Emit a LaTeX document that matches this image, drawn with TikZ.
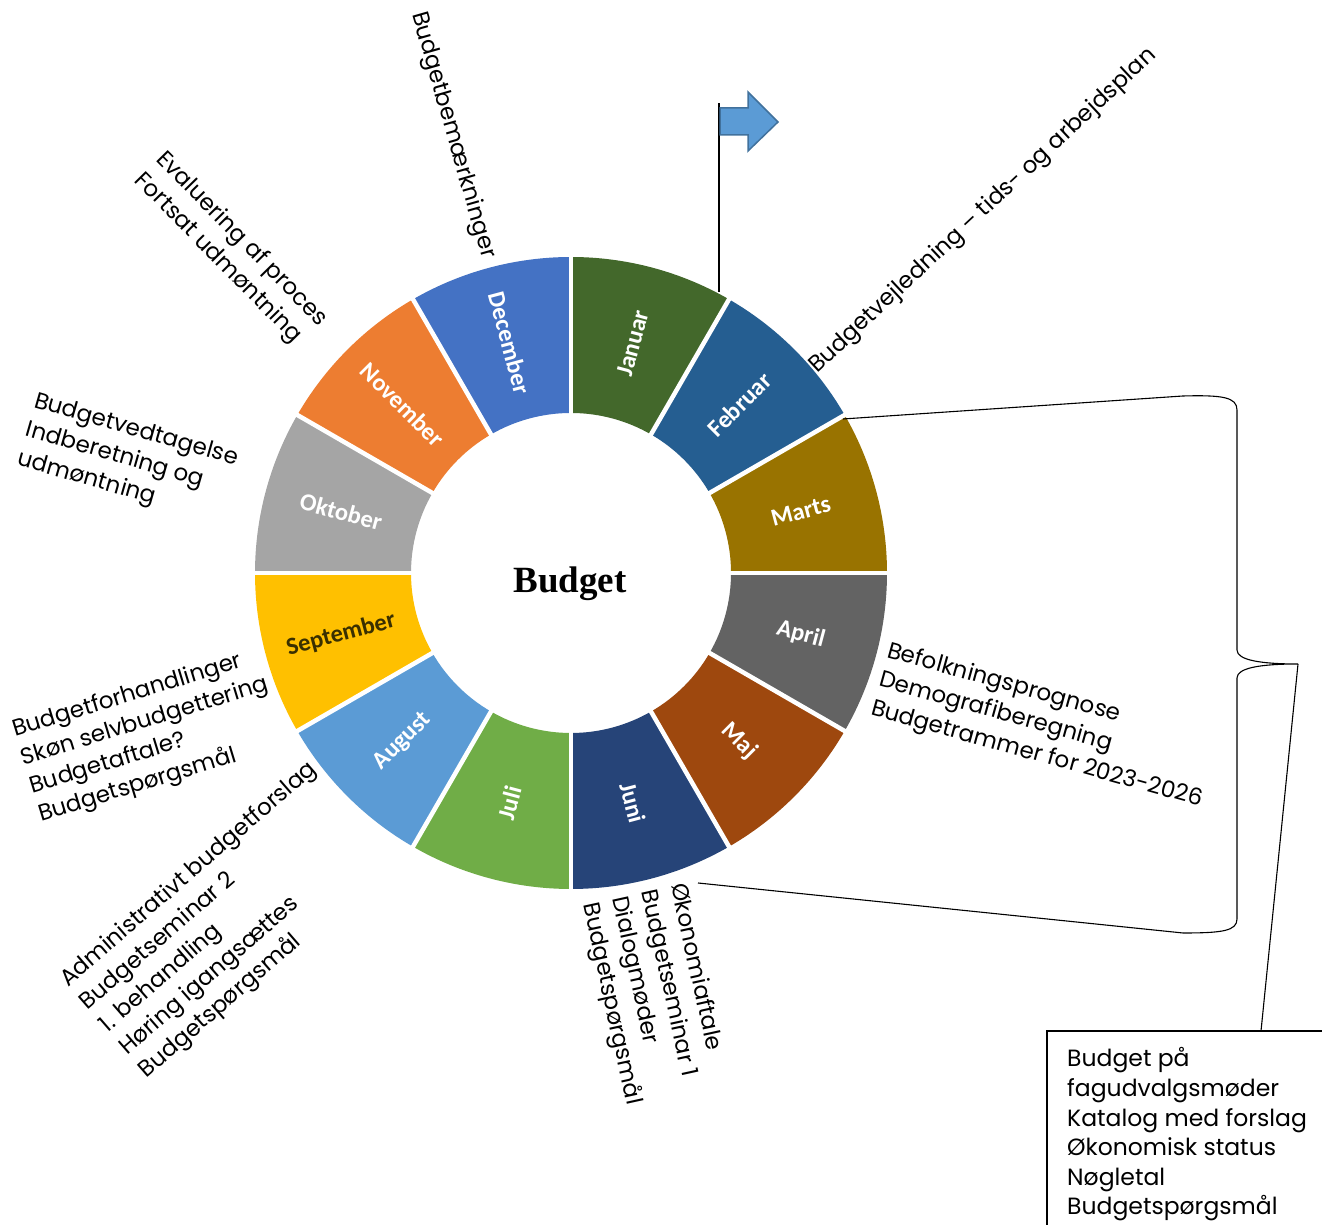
\documentclass[tikz,border=0pt]{standalone}
\usepackage{fontspec}
\newfontfamily\lblf{Poppins}
\newfontfamily\calf{Carlito}
\newfontfamily\serf{Liberation Serif}
\usetikzlibrary{calc}
\definecolor{cJan}{HTML}{43682B}
\definecolor{cFeb}{HTML}{255E91}
\definecolor{cMar}{HTML}{997300}
\definecolor{cApr}{HTML}{636363}
\definecolor{cMaj}{HTML}{9E480E}
\definecolor{cJun}{HTML}{264478}
\definecolor{cJul}{HTML}{70AD47}
\definecolor{cAug}{HTML}{5B9BD5}
\definecolor{cSep}{HTML}{FFC000}
\definecolor{cOkt}{HTML}{A5A5A5}
\definecolor{cNov}{HTML}{ED7D31}
\definecolor{cDec}{HTML}{4472C4}
\definecolor{septext}{HTML}{3A3000}
\definecolor{arrowfill}{HTML}{5B9BD5}
\definecolor{arrowdraw}{HTML}{41719C}
\begin{document}
\begin{tikzpicture}[x=1pt,y=1pt,
  lbl/.style={font=\lblf\fontsize{23}{28}\selectfont, anchor=base west, inner sep=0pt},
  boxlbl/.style={font=\lblf\fontsize{23.5}{28}\selectfont, anchor=base west, inner sep=0pt},
  mon/.style={font=\calf\bfseries\fontsize{24.5}{30}\selectfont, inner sep=0pt},
  conn/.style={black, line width=1.1pt}]
\useasboundingbox (0,0) rectangle (1322,1225);
\coordinate (C) at (571,652);
% ring segments
\foreach \i/\col in {0/cJan,1/cFeb,2/cMar,3/cApr,4/cMaj,5/cJun,6/cJul,7/cAug,8/cSep,9/cOkt,10/cNov,11/cDec}{
  \pgfmathsetmacro\a{90-30*\i}
  \pgfmathsetmacro\b{60-30*\i}
  \fill[\col] ($(C)+(\a:316)$) arc[start angle=\a, end angle=\b, radius=316]
     -- ($(C)+(\b:160)$) arc[start angle=\b, end angle=\a, radius=160] -- cycle;
}
\foreach \a in {0,30,...,330}{
  \draw[white, line width=4.5pt] ($(C)+(\a:155)$) -- ($(C)+(\a:322)$);
}
% month labels
\foreach \i/\nm/\rot/\tc in {0/Januar/75/white,1/Februar/45/white,2/Marts/15/white,3/April/-15/white,4/Maj/-45/white,5/Juni/-75/white,6/Juli/75/white,7/August/45/white,8/September/15/septext,9/Oktober/-15/white,10/November/-45/white,11/December/-75/white}{
  \node[mon, text=\tc, rotate=\rot] (m\i) at ($(C)+({75-30*\i}:238)$) {\nm};
}
\node[font=\serf\bfseries\fontsize{37}{40}\selectfont, anchor=base, inner sep=0pt] (ctr) at (570,632) {Budget};
% outer labels
\node[lbl, rotate=-74] (bem) at (412,1211) {Budgetbemærkninger};
\foreach [count=\k from 0] \t in {Evaluering af proces, Fortsat udmøntning}{
  \path (155,1065) ++({-45.5-90}:{30*\k}) node[lbl, rotate=-45.5] (evl\k) {\t};
}
\foreach [count=\k from 0] \t in {Budgetvedtagelse, Indberetning og, udmøntning}{
  \path (33,818) ++({-16-90}:{30*\k}) node[lbl, rotate=-16] (ved\k) {\t};
}
\node[lbl, rotate=43] (vej) at (817,851) {Budgetvejledning – tids- og arbejdsplan};
\foreach [count=\k from 0] \t in {Befolkningsprognose, Demografiberegning, Budgetrammer for 2023-2026}{
  \path (886,568) ++({-15.5-90}:{30*\k}) node[lbl, rotate=-15.5] (bef\k) {\t};
}
\foreach [count=\k from 0] \t in {Budgetforhandlinger, Skøn selvbudgettering, Budgetaftale?, Budgetspørgsmål}{
  \path (15,488) ++({17-90}:{29.5*\k}) node[lbl, rotate=17] (frh\k) {\t};
}
\foreach [count=\k from 0] \t in {Administrativt budgetforslag, Budgetseminar 2, 1. behandling, Høring igangsættes, Budgetspørgsmål}{
  \path (68,237) ++({41-90}:{30*\k}) node[lbl, rotate=41] (adm\k) {\t};
}
\foreach [count=\k from 0] \t in {Økonomiaftale, Budgetseminar 1, Dialogmøder, Budgetspørgsmål}{
  \path (671,340) ++({-77.6-90}:{30*\k}) node[lbl, rotate=-77.6] (oko\k) {\t};
}
% flag
\coordinate (fb) at (719,933);
\coordinate (ft) at (719,1122);
\draw[black, line width=1.2pt] (fb) -- (ft);
\draw[fill=arrowfill, draw=arrowdraw, line width=1.5pt] (720,1117) -- (748,1117) -- (748,1133) -- (778,1103) -- (748,1074) -- (748,1090) -- (720,1090) -- cycle;
% brace and connectors
\coordinate (cTop) at (843,806);
\coordinate (cBot) at (698,342);
\coordinate (bT) at (1183,829);
\coordinate (bB) at (1183,292);
\coordinate (tip) at (1298,561);
\coordinate (boxtop) at (1261,194);
\draw[conn] (cTop) -- (bT);
\draw[conn] (cBot) -- (bB);
\draw[conn] (bT) .. controls (1222,830) and (1237,828) .. (1237,815) -- (1237,575)
  .. controls (1237,565) and (1260,561) .. (tip)
  .. controls (1260,561) and (1237,557) .. (1237,547) -- (1237,306)
  .. controls (1237,294) and (1222,292) .. (bB);
\draw[conn] (tip) -- (boxtop);
% box
\draw[black, line width=1.3pt] (1047,-5) -- (1047,194) -- (1330,194);
\foreach [count=\k from 0] \t in {Budget på, fagudvalgsmøder, Katalog med forslag, Økonomisk status, Nøgletal, Budgetspørgsmål}{
  \node[boxlbl] (bx\k) at (1067,{158-29.6*\k}) {\t};
}
\end{tikzpicture}
\end{document}
